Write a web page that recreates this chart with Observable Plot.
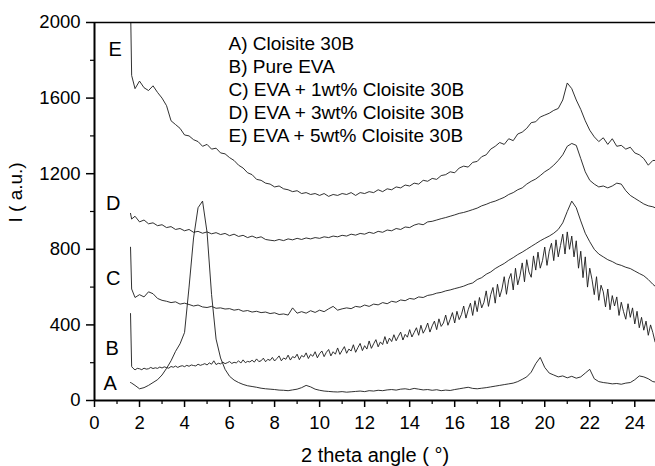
<!DOCTYPE html>
<html><head><meta charset="utf-8">
<script src="https://cdn.jsdelivr.net/npm/d3@7"></script>
<script src="https://cdn.jsdelivr.net/npm/@observablehq/plot@0.6"></script>
<style>body{margin:0;background:#fff;}</style>
</head><body><div id="chart"></div>
<script>
// 2 theta grid (degrees) for curves A, C, D, E
const angle = [1.6,1.65,1.8,
2,2.2,2.4,2.6,2.8, 3,3.2,3.4,3.6,3.8, 4,4.2,4.4,4.6,4.8, 5,5.2,5.4,5.6,5.8,
6,6.2,6.4,6.6,6.8, 7,7.2,7.4,7.6,7.8, 8,8.2,8.4,8.6,8.8, 9,9.2,9.4,9.6,9.8,
10,10.2,10.4,10.6,10.8, 11,11.2,11.4,11.6,11.8, 12,12.2,12.4,12.6,12.8, 13,13.2,13.4,13.6,13.8,
14,14.2,14.4,14.6,14.8, 15,15.2,15.4,15.6,15.8, 16,16.2,16.4,16.6,16.8, 17,17.2,17.4,17.6,17.8,
18,18.2,18.4,18.6,18.8, 19,19.2,19.4,19.6,19.8, 20,20.2,20.4,20.6,20.8, 21,21.2,21.4,21.6,21.8,
22,22.2,22.4,22.6,22.8, 23,23.2,23.4,23.6,23.8, 24,24.2,24.4,24.6,24.8, 24.9];

// A) Cloisite 30B
const cloisite = [95,92,80,
62,68,80,95,110, 135,170,210,260,300, 360,600,860,1020,1055, 890,560,325,225,165,
128,108,95,85,78, 74,70,65,62,60, 58,55,54,52,56, 60,68,80,72,60,
54,50,48,46,45, 47,44,46,48,50, 47,52,50,54,52, 56,58,55,60,62,
58,64,60,56,58, 54,57,52,55,53, 58,62,66,70,64, 62,65,68,72,76,
80,84,88,92,100, 112,125,150,195,228, 175,145,135,125,130, 120,128,118,125,145,
165,115,100,95,92, 88,90,86,92,95, 110,130,125,115,100, 98];

// C) EVA + 1wt% Cloisite 30B
const eva1 = [811,590,545,
560,548,575,565,540, 530,525,518,522,510, 515,508,500,505,495, 492,498,488,490,484,
486,478,482,472,476, 468,472,465,468,460, 464,455,458,452,490, 462,470,462,475,466,
478,470,485,498,478, 485,490,486,498,494, 505,498,510,506,518, 512,525,520,532,528,
540,536,548,545,556, 560,568,572,580,585, 592,598,605,615,622, 640,650,668,680,698,
712,725,742,756,772, 785,800,815,830,845, 858,870,885,905,940, 1000,1055,1020,950,885,
840,800,775,760,745, 735,722,715,705,698, 685,672,660,640,615, 605];

// D) EVA + 3wt% Cloisite 30B
const eva3 = [990,960,975,
945,955,935,940,925, 930,915,920,905,910, 898,905,890,895,885, 892,882,888,878,884,
872,880,868,874,862, 870,860,866,852,848, 845,852,846,855,850, 858,852,860,855,862,
858,866,862,870,866, 874,870,880,875,884, 880,890,884,895,890, 902,898,910,905,918,
915,928,935,930,945, 948,955,962,968,975, 982,990,995,1002,1010, 1018,1030,1038,1048,1055,
1065,1075,1090,1100,1115, 1125,1145,1160,1172,1190, 1210,1225,1245,1270,1300, 1345,1360,1350,1280,1210,
1165,1145,1130,1135,1125, 1135,1150,1145,1110,1085, 1070,1055,1040,1030,1025, 1020];

// E) EVA + 5wt% Cloisite 30B
const eva5 = [2100,1720,1650,
1690,1655,1640,1665,1630, 1600,1560,1480,1460,1440, 1405,1400,1380,1370,1345, 1355,1330,1335,1310,1305,
1285,1270,1245,1230,1205, 1195,1170,1165,1150,1145, 1130,1135,1120,1115,1105, 1110,1095,1100,1090,1095,
1085,1095,1080,1090,1085, 1095,1090,1100,1085,1100, 1095,1105,1100,1115,1105, 1120,1115,1130,1125,1140,
1135,1150,1145,1165,1160, 1175,1170,1190,1195,1210, 1205,1230,1240,1235,1260, 1265,1290,1300,1330,1345,
1365,1355,1385,1375,1410, 1420,1440,1470,1475,1500, 1510,1520,1535,1545,1590, 1680,1650,1590,1540,1480,
1430,1395,1370,1390,1355, 1385,1345,1350,1330,1340, 1310,1300,1280,1245,1270, 1270];

// finer 2 theta grid for the noisy curve B
const angleFine = [1.6,1.65,1.7,1.8,1.9,
2,2.1,2.2,2.3,2.4,2.5,2.6,2.7,2.8,2.9, 3,3.1,3.2,3.3,3.4,3.5,3.6,3.7,3.8,3.9,
4,4.1,4.2,4.3,4.4,4.5,4.6,4.7,4.8,4.9, 5,5.1,5.2,5.3,5.4,5.5,5.6,5.7,5.8,5.9,
6,6.1,6.2,6.3,6.4,6.5,6.6,6.7,6.8,6.9, 7,7.1,7.2,7.3,7.4,7.5,7.6,7.7,7.8,7.9,
8,8.1,8.2,8.3,8.4,8.5,8.6,8.7,8.8,8.9, 9,9.1,9.2,9.3,9.4,9.5,9.6,9.7,9.8,9.9,
10,10.1,10.2,10.3,10.4,10.5,10.6,10.7,10.8,10.9, 11,11.1,11.2,11.3,11.4,11.5,11.6,11.7,11.8,11.9,
12,12.1,12.2,12.3,12.4,12.5,12.6,12.7,12.8,12.9, 13,13.1,13.2,13.3,13.4,13.5,13.6,13.7,13.8,13.9,
14,14.1,14.2,14.3,14.4,14.5,14.6,14.7,14.8,14.9, 15,15.1,15.2,15.3,15.4,15.5,15.6,15.7,15.8,15.9,
16,16.1,16.2,16.3,16.4,16.5,16.6,16.7,16.8,16.9, 17,17.1,17.2,17.3,17.4,17.5,17.6,17.7,17.8,17.9,
18,18.1,18.2,18.3,18.4,18.5,18.6,18.7,18.8,18.9, 19,19.1,19.2,19.3,19.4,19.5,19.6,19.7,19.8,19.9,
20,20.1,20.2,20.3,20.4,20.5,20.6,20.7,20.8,20.9, 21,21.1,21.2,21.3,21.4,21.5,21.6,21.7,21.8,21.9,
22,22.1,22.2,22.3,22.4,22.5,22.6,22.7,22.8,22.9, 23,23.1,23.2,23.3,23.4,23.5,23.6,23.7,23.8,23.9,
24,24.1,24.2,24.3,24.4,24.5,24.6,24.7,24.8,24.9];

// B) Pure EVA
const pureEva = [460,180,172,162,170,
168,163,171,166,168,175,169,173,170,177, 172,178,174,171,180,176,182,175,181,184,
179,186,181,188,185,183,192,186,190,195, 188,199,192,210,190,197,194,203,195,200,
206,196,202,199,210,198,215,200,207,204, 213,203,220,206,210,224,205,218,212,228,
209,222,236,210,225,218,240,214,232,226, 245,216,238,230,252,222,244,234,258,226,
248,262,232,255,270,236,258,245,278,244, 265,285,250,272,262,295,255,280,302,264,
290,272,315,276,300,322,284,310,296,338, 300,330,312,348,316,340,362,320,350,335,
375,336,360,385,345,398,356,378,410,362, 395,420,375,432,392,410,452,398,430,465,
410,472,428,455,500,436,480,515,450,528, 470,545,490,520,580,498,560,598,515,615,
548,590,655,562,640,672,585,700,612,660, 728,628,745,680,652,765,690,785,700,740,
812,715,790,832,740,850,760,820,880,775, 892,800,870,760,845,700,790,650,760,600,
700,640,560,655,530,610,575,495,590,480, 555,500,548,450,520,470,430,512,440,490,
405,472,385,440,372,420,345,400,360,310];

const xTicks = [0,2,4,6,8,10,12,14,16,18,20,22,24];
const xMinor = [1,3,5,7,9,11,13,15,17,19,21,23];
const yTicks = [0,400,800,1200,1600,2000];
const yMinor = [200,600,1000,1400,1800];

const curveLetters = ["A","B","C","D","E"];
const letterAngle = [0.7,0.79,0.83,0.83,0.92];
const letterLevel = [90,275,645,1042,1857];

const legendLines = ["A) Cloisite 30B","B) Pure EVA","C) EVA + 1wt% Cloisite 30B","D) EVA + 3wt% Cloisite 30B","E) EVA + 5wt% Cloisite 30B"];

const coarse = [cloisite, eva1, eva3, eva5].map(arr => angle.map((x, i) => ({x, y: arr[i]})));
const bData = angleFine.map((x, i) => ({x, y: pureEva[i]}));
const letters = curveLetters.map((t, i) => ({t, x: letterAngle[i], y: letterLevel[i]}));

const font = "'Liberation Sans', Arial, Helvetica, sans-serif";
const lineStyle = {x: "x", y: "y", stroke: "#1a1a1a", strokeWidth: 0.9, clip: true};

const chart = Plot.plot({
  width: 655, height: 466,
  marginLeft: 94, marginRight: 0, marginTop: 22, marginBottom: 66,
  style: {fontFamily: font, fontSize: "18px", background: "#fff", color: "#000"},
  x: {domain: [0, 24.92]},
  y: {domain: [0, 2000]},
  marks: [
    Plot.axisX(xTicks, {tickSize: 7, tickPadding: 8, fontSize: 18.5, label: null, strokeWidth: 1.5, tickFormat: d => String(d)}),
    Plot.axisX(xMinor, {tickSize: 4, label: null, strokeWidth: 1.2, tickFormat: () => ""}),
    Plot.axisY(yTicks, {tickSize: 8, tickPadding: 6, fontSize: 18.5, label: null, strokeWidth: 1.5, tickFormat: d => String(d)}),
    Plot.axisY(yMinor, {tickSize: 4, label: null, strokeWidth: 1.2, tickFormat: () => ""}),
    ...coarse.map(d => Plot.line(d, lineStyle)),
    Plot.line(bData, lineStyle),
    Plot.ruleX([0], {stroke: "#000", strokeWidth: 2}),
    Plot.ruleY([0], {stroke: "#000", strokeWidth: 2}),
    Plot.ruleY([2000], {stroke: "#000", strokeWidth: 1.6}),
    Plot.text(letters, {x: "x", y: "y", text: "t", fontSize: 20, fill: "#000"}),
    Plot.text([legendLines.join("\n")], {frameAnchor: "top-left", dx: 134, dy: 11, lineAnchor: "top", textAnchor: "start", lineHeight: 1.21, fontSize: 19, fill: "#000"}),
    Plot.text(["2 theta angle ( °)"], {frameAnchor: "bottom", dy: 55, lineAnchor: "middle", fontSize: 20, fill: "#000"}),
    Plot.text(["I ( a.u.)"], {frameAnchor: "left", dx: -79, dy: 11, rotate: -90, lineAnchor: "middle", fontSize: 19, fill: "#000"})
  ]
});
document.getElementById("chart").appendChild(chart);
</script>
</body></html>
